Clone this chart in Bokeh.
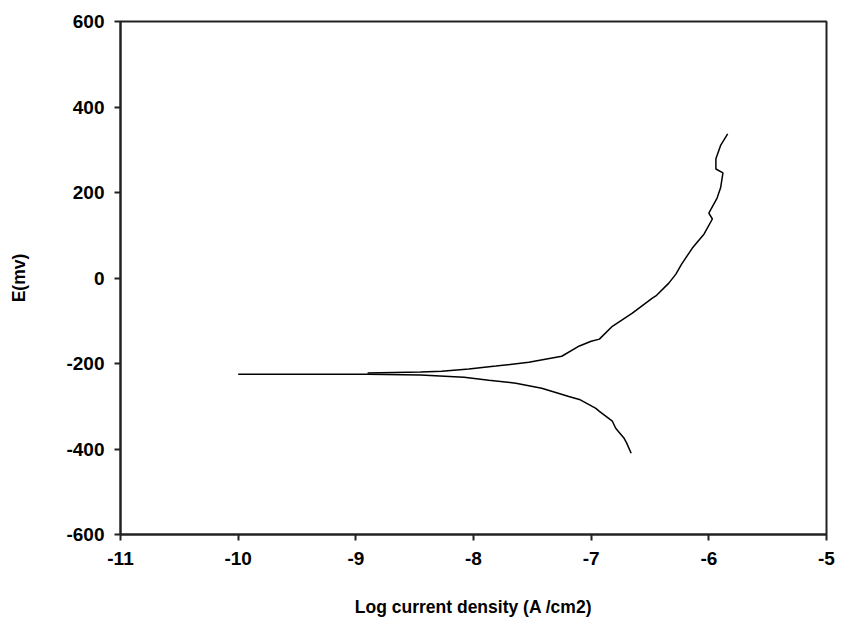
from bokeh.plotting import figure
from bokeh.models import Range1d, FixedTicker, CustomJSTickFormatter
from bokeh.embed import file_html
from bokeh.resources import INLINE

# Cathodic branch (from most negative potential toward corrosion potential)
cath_logi = [-6.66, -6.70, -6.72, -6.79, -6.82, -6.93, -6.96, -7.10, -7.19, -7.42,
             -7.64, -7.87, -8.08, -8.45, -8.90, -10.0]
cath_E = [-410, -385, -375, -352, -335, -312, -305, -284, -277, -258,
          -246, -239, -232, -227, -225, -225]

# Anodic branch
anod_logi = [-8.90, -8.45, -8.27, -8.04, -7.81, -7.53, -7.25, -7.10, -7.00, -6.93,
             -6.82, -6.65, -6.48, -6.45, -6.34, -6.28, -6.23, -6.14, -6.04, -5.97,
             -6.00, -5.93, -5.90, -5.88, -5.94, -5.94, -5.90, -5.84]
anod_E = [-222, -220, -218, -213, -206, -197, -183, -159, -148, -143,
          -113, -82, -47, -42, -12, 9, 33, 70, 103, 138,
          152, 187, 211, 246, 255, 279, 310, 337]

x_ticks = [-11, -10, -9, -8, -7, -6, -5]
y_ticks = [-600, -400, -200, 0, 200, 400, 600]

p = figure(width=836, height=619, output_backend="svg", toolbar_location=None,
           x_range=Range1d(-11, -5), y_range=Range1d(-600, 600),
           min_border_left=120, min_border_right=10, min_border_top=21, min_border_bottom=83)

p.line(cath_logi, cath_E, line_color="black", line_width=1.5)
p.line(anod_logi, anod_E, line_color="black", line_width=1.5)

p.xgrid.visible = False
p.ygrid.visible = False
p.outline_line_color = "#222222"
p.outline_line_width = 2
p.background_fill_color = "white"
p.border_fill_color = "white"

font = "Liberation Sans"
fmt = CustomJSTickFormatter(code="return tick.toString();")
for ax in (p.xaxis[0], p.yaxis[0]):
    ax.formatter = fmt
    ax.axis_line_color = "#222222"
    ax.axis_line_width = 2
    ax.major_tick_line_color = "#222222"
    ax.major_tick_line_width = 2
    ax.major_tick_out = 6
    ax.major_tick_in = 0
    ax.minor_tick_line_color = None
    ax.major_label_text_font = font
    ax.major_label_text_font_style = "bold"
    ax.major_label_text_font_size = "19px"
    ax.major_label_text_color = "black"
    ax.axis_label_text_font = font
    ax.axis_label_text_font_style = "bold"
    ax.axis_label_text_font_size = "17.5px"
    ax.axis_label_text_color = "black"

p.xaxis.ticker = FixedTicker(ticks=x_ticks)
p.yaxis.ticker = FixedTicker(ticks=y_ticks)
p.xaxis.axis_label = "Log current density (A /cm2)"
p.yaxis.axis_label = "E(mv)"
p.xaxis.major_label_standoff = 11
p.yaxis.major_label_standoff = 10
p.xaxis.axis_label_standoff = 29
p.yaxis.axis_label_standoff = 34

open("out.html", "w").write(file_html(p, INLINE))
